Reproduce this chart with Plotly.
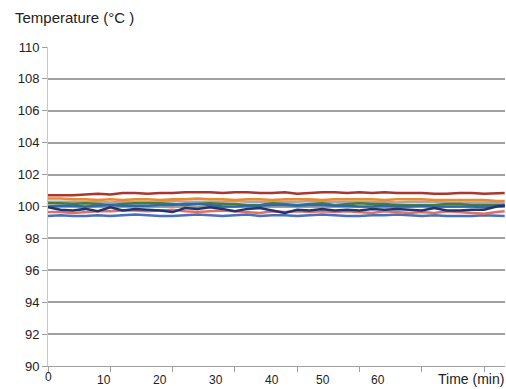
import plotly.graph_objects as go

time_min = [0, 2, 4, 6, 8, 10, 12, 14, 16, 18, 20, 22, 24, 26, 28, 30, 32, 34, 36,
            38, 40, 42, 44, 46, 48, 50, 52, 54, 56, 58, 60, 62, 64, 66, 68, 70, 72, 73.3]

red = [100.7, 100.7, 100.7, 100.75, 100.8, 100.75, 100.85, 100.85, 100.8, 100.85, 100.85, 100.9, 100.9,
       100.9, 100.85, 100.9, 100.9, 100.85, 100.85, 100.9, 100.8, 100.85, 100.9, 100.9, 100.85, 100.9,
       100.85, 100.9, 100.85, 100.85, 100.85, 100.8, 100.8, 100.85, 100.85, 100.8, 100.85, 100.85]
orange = [100.5, 100.5, 100.45, 100.45, 100.4, 100.45, 100.4, 100.45, 100.45, 100.4, 100.45, 100.45, 100.5,
          100.45, 100.45, 100.4, 100.45, 100.45, 100.4, 100.45, 100.45, 100.45, 100.4, 100.45, 100.45, 100.45,
          100.45, 100.4, 100.45, 100.45, 100.45, 100.4, 100.4, 100.4, 100.4, 100.4, 100.35, 100.35]
gray = [100.3, 100.3, 100.3, 100.3, 100.3, 100.25, 100.3, 100.3, 100.3, 100.3, 100.35, 100.3, 100.3,
        100.3, 100.3, 100.35, 100.3, 100.3, 100.3, 100.3, 100.3, 100.35, 100.3, 100.3, 100.3, 100.3,
        100.3, 100.3, 100.25, 100.3, 100.3, 100.3, 100.25, 100.25, 100.25, 100.25, 100.25, 100.25]
green = [100.2, 100.2, 100.15, 100.2, 100.15, 100.1, 100.15, 100.2, 100.2, 100.2, 100.15, 100.1, 100.15,
         100.2, 100.15, 100.15, 100.1, 100.1, 100.2, 100.15, 100.1, 100.15, 100.2, 100.1, 100.15, 100.2,
         100.15, 100.15, 100.1, 100.1, 100.1, 100.1, 100.15, 100.15, 100.1, 100.1, 100.1, 100.1]
steel = [100.0, 100.05, 100.05, 100.0, 100.05, 100.1, 100.05, 100.05, 100.05, 100.1, 100.1, 100.15, 100.15,
         100.1, 100.0, 100.0, 100.05, 100.05, 100.1, 100.1, 100.05, 100.1, 100.1, 100.05, 100.05, 100.0,
         100.0, 100.05, 100.0, 100.0, 100.05, 100.0, 100.0, 100.0, 100.0, 99.95, 100.05, 100.1]
navy = [99.95, 99.8, 99.75, 99.85, 99.7, 99.95, 99.75, 99.85, 99.8, 99.75, 99.65, 99.9, 99.85,
        99.95, 99.85, 99.7, 99.85, 99.9, 99.75, 99.6, 99.8, 99.75, 99.85, 99.75, 99.8, 99.75,
        99.85, 99.8, 99.85, 99.8, 99.75, 99.9, 99.75, 99.75, 99.8, 99.8, 100.0, 100.05]
salmon = [99.65, 99.65, 99.6, 99.65, 99.7, 99.7, 99.75, 99.75, 99.7, 99.75, 99.8, 99.7, 99.65,
          99.7, 99.75, 99.7, 99.65, 99.6, 99.7, 99.65, 99.7, 99.65, 99.7, 99.65, 99.7, 99.65,
          99.6, 99.7, 99.65, 99.6, 99.65, 99.6, 99.7, 99.65, 99.6, 99.55, 99.65, 99.7]
blue = [99.4, 99.45, 99.4, 99.4, 99.45, 99.4, 99.45, 99.5, 99.45, 99.4, 99.4, 99.45, 99.5,
        99.45, 99.4, 99.45, 99.5, 99.4, 99.45, 99.45, 99.4, 99.45, 99.5, 99.45, 99.4, 99.4,
        99.45, 99.45, 99.5, 99.45, 99.4, 99.45, 99.4, 99.4, 99.4, 99.45, 99.4, 99.4]

series = [
    ("blue", blue, "#4A6FBF"),
    ("salmon", salmon, "#E2705E"),
    ("gray", gray, "#A8A8A8"),
    ("green", green, "#4E7A35"),
    ("orange", orange, "#EA8A30"),
    ("steel", steel, "#2E6BA6"),
    ("navy", navy, "#1F3470"),
    ("red", red, "#A9372D"),
]

y_ticks = [90, 92, 94, 96, 98, 100, 102, 104, 106, 108, 110]
x_tick_marks = [0, 10, 20, 30, 40, 50, 60, 70]
x_tick_labels = ["0", "10", "20", "30", "40", "50", "60"]
x_label_pos = [0, 9, 18, 27, 36, 44.2, 53]

fig = go.Figure()
for name, vals, col in series:
    fig.add_trace(go.Scatter(x=time_min, y=vals, mode="lines", name=name,
                             line=dict(color=col, width=2.5), showlegend=False))

font_family = "Liberation Sans, Arial, sans-serif"

for lab, pos in zip(x_tick_labels, x_label_pos):
    fig.add_annotation(x=pos, y=0, xref="x", yref="paper", text=lab, showarrow=False,
                       xanchor="center", yanchor="top", yshift=-3 if lab == "0" else -6,
                       borderpad=0,
                       font=dict(size=12, color="#222222", family=font_family))

fig.add_annotation(x=1, y=0, xref="paper", yref="paper", text="Time (min)", showarrow=False,
                   xanchor="right", yanchor="top", yshift=-4, borderpad=0,
                   font=dict(size=14, color="#222222", family=font_family))
fig.add_annotation(x=-48 / 457, y=1, xref="paper", yref="paper", text="Temperature (°C )",
                   showarrow=False, xanchor="left", yanchor="bottom", xshift=13, yshift=19,
                   font=dict(size=15, color="#222222", family=font_family))

fig.update_layout(
    width=506, height=389,
    margin=dict(l=48, r=1, t=47, b=23),
    paper_bgcolor="white", plot_bgcolor="white",
    xaxis=dict(range=[0, 73.35], tickvals=x_tick_marks, showticklabels=False,
               ticks="outside", ticklen=5, tickcolor="#A0A0A0",
               showgrid=False, zeroline=False, showline=True, linecolor="#A0A0A0", linewidth=1),
    yaxis=dict(range=[90, 110], tickvals=y_ticks, ticks="outside", ticklen=5, tickcolor="#A0A0A0",
               showgrid=True, gridcolor="#A0A0A0", gridwidth=1.5, zeroline=False,
               showline=True, linecolor="#C8C8C8", linewidth=1,
               tickfont=dict(size=13, color="#222222", family=font_family)),
)

fig.write_html("out.html")
